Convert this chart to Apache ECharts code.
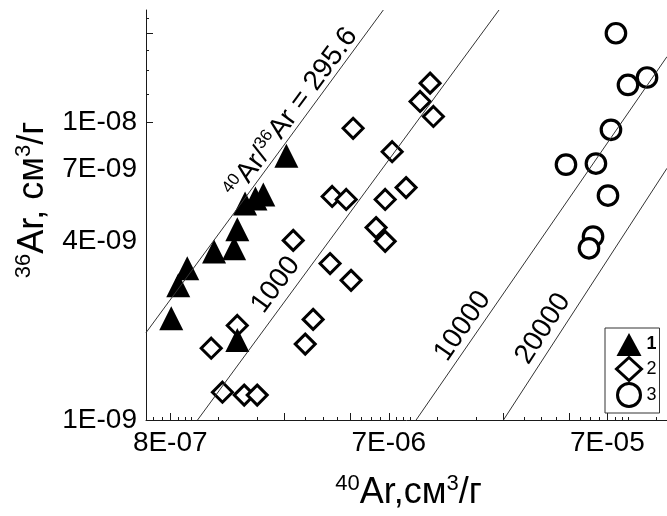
<!DOCTYPE html>
<html>
<head>
<meta charset="utf-8">
<script src="https://cdn.jsdelivr.net/npm/echarts@6/dist/echarts.min.js"></script>
<style>
  html, body { margin: 0; padding: 0; background: #ffffff; }
  #chart { width: 667px; height: 516px; }
</style>
</head>
<body>
<div id="chart"></div>
<script>
// 40Ar and 36Ar contents (cm3/g) for three sample groups
const group1Ar40 = [7.58e-7, 8.16e-7, 8.97e-7, 1.19e-6, 1.47e-6, 1.52e-6, 1.65e-6, 1.84e-6, 2.0e-6, 2.55e-6, 1.52e-6];
const group1Ar36 = [2.20e-9, 2.84e-9, 3.24e-9, 3.69e-9, 3.78e-9, 4.38e-9, 5.35e-9, 5.56e-9, 5.74e-9, 7.75e-9, 1.86e-9];

const group2Ar40 = [1.159e-5, 1.043e-5, 1.2e-5, 5.15e-6, 7.77e-6, 4.13e-6, 4.79e-6, 7.22e-6, 9.0e-6, 6.56e-6, 7.22e-6,
                    2.74e-6, 4.04e-6, 5.04e-6, 3.38e-6, 3.11e-6, 1.52e-6, 1.155e-6, 1.30e-6, 1.635e-6, 1.875e-6];
const group2Ar36 = [1.359e-8, 1.179e-8, 1.05e-8, 9.58e-9, 7.99e-9, 5.65e-9, 5.52e-9, 5.52e-9, 6.05e-9, 4.44e-9, 3.99e-9,
                    4.02e-9, 3.36e-9, 2.95e-9, 2.18e-9, 1.80e-9, 2.08e-9, 1.744e-9, 1.24e-9, 1.213e-9, 1.213e-9];

const group3Ar40 = [8.21e-5, 9.32e-5, 1.139e-4, 7.79e-5, 4.85e-5, 6.65e-5, 7.55e-5, 6.45e-5, 6.18e-5];
const group3Ar36 = [2.0e-8, 1.34e-8, 1.42e-8, 9.47e-9, 7.23e-9, 7.29e-9, 5.69e-9, 4.14e-9, 3.78e-9];

// Reference lines of constant 40Ar/36Ar: end points [40Ar, 36Ar]
const isoRatios = [295.6, 1000, 10000, 20000];
const isoFrom = [[5.81e-7, 1.966e-9], [1e-6, 1e-9], [1e-5, 1e-9], [2.51e-5, 1e-9]];
const isoTo   = [[7.08e-6, 2.395e-8], [2.395e-5, 2.395e-8], [1.406e-4, 1.669e-8], [1.406e-4, 7.03e-9]];

// Axis ranges and labelled ticks
const xMin = 5.81e-7, xMax = 1.406e-4;
const yMin = 1e-9, yMax = 2.395e-8;
const xTickValues = [7.5e-7, 7.5e-6, 7.5e-5];
const xTickLabels = ['8E-07', '7E-06', '7E-05'];
const yTickValues = [1e-9, 4e-9, 7e-9, 1e-8];
const yTickLabels = ['1E-09', '4E-09', '7E-09', '1E-08'];

// tick marks: x every 0.625·10^k, y every 0.25·10^k
function ticks(step, nFrom, nTo, majorEvery, lo, hi) {
  const major = [], minor = [];
  for (let k = -8; k <= -3; k++) {
    for (let n = nFrom; n <= nTo; n++) {
      const v = n * step * Math.pow(10, k);
      if (v < lo * 0.999 || v > hi * 1.001) continue;
      (n % majorEvery === 0 ? major : minor).push(v);
    }
  }
  return { major, minor };
}
const xTicks = ticks(0.625, 2, 15, 4, xMin, xMax);
const yTicks = ticks(0.25, 4, 39, 4, yMin, yMax);

const FONT = "'Liberation Sans', Arial, Helvetica, sans-serif";
const AXIS_COLOR = '#1a1a1a';
const INK = '#000000';

function pick(values, labels) {
  return function (v) {
    let best = 0, bd = Infinity;
    values.forEach((t, i) => {
      const d = Math.abs(Math.log10(v) - Math.log10(t));
      if (d < bd) { bd = d; best = i; }
    });
    return labels[best];
  };
}

function zip(a, b) { return a.map((v, i) => [v, b[i]]); }

const chart = echarts.init(document.getElementById('chart'), null, { renderer: 'canvas' });

const supRich = {
  sup: { fontFamily: FONT, fontSize: 22, color: INK, verticalAlign: 'top', lineHeight: 40 },
  m: { fontFamily: FONT, fontSize: 36, color: INK, lineHeight: 40 }
};

function baseAxis(min, max, extra) {
  return Object.assign({
    type: 'log', logBase: 10, min: min, max: max,
    splitLine: { show: false }, minorTick: { show: false }, minorSplitLine: { show: false }
  }, extra);
}

const lineSeries = isoRatios.map((r, i) => ({
  type: 'line',
  name: 'iso' + r,
  data: [isoFrom[i], isoTo[i]],
  symbol: 'none',
  silent: true,
  clip: true,
  z: 6,
  lineStyle: { color: '#333333', width: 1 },
  emphasis: { disabled: true }
}));

const option = {
  animation: false,
  backgroundColor: '#ffffff',
  grid: { left: 146, right: 0, top: 10, bottom: 95 },
  xAxis: [
    baseAxis(xMin, xMax, {
      position: 'bottom',
      axisLine: { show: true, lineStyle: { color: AXIS_COLOR, width: 1 } },
      axisTick: { show: true, inside: true, length: 7, customValues: xTicks.major, lineStyle: { color: AXIS_COLOR } },
      axisLabel: { show: true, customValues: xTickValues, formatter: pick(xTickValues, xTickLabels),
                   fontFamily: FONT, fontSize: 28, color: INK, margin: 9 },
      name: '{sup|40}{m|Ar,см}{sup|3}{m|/г}',
      nameLocation: 'middle', nameGap: 53,
      nameTextStyle: { fontFamily: FONT, fontSize: 36, color: INK, rich: supRich, padding: [0, 0, 0, 4] }
    }),
    baseAxis(xMin, xMax, {
      position: 'bottom',
      axisLine: { show: false },
      axisTick: { show: true, inside: true, length: 3, customValues: xTicks.minor, lineStyle: { color: AXIS_COLOR } },
      axisLabel: { show: false }
    })
  ],
  yAxis: [
    baseAxis(yMin, yMax, {
      position: 'left',
      axisLine: { show: true, lineStyle: { color: AXIS_COLOR, width: 1 } },
      axisTick: { show: true, inside: true, length: 7, customValues: yTicks.major, lineStyle: { color: AXIS_COLOR } },
      axisLabel: { show: true, customValues: yTickValues, formatter: pick(yTickValues, yTickLabels),
                   fontFamily: FONT, fontSize: 28, color: INK, margin: 9 },
      name: '{sup|36}{m|Ar, см}{sup|3}{m|/г}',
      nameLocation: 'middle', nameGap: 90,
      nameTextStyle: { fontFamily: FONT, fontSize: 36, color: INK, rich: supRich, padding: [0, 0, 0, 30] }
    }),
    baseAxis(yMin, yMax, {
      position: 'left',
      axisLine: { show: false },
      axisTick: { show: true, inside: true, length: 3, customValues: yTicks.minor, lineStyle: { color: AXIS_COLOR } },
      axisLabel: { show: false }
    })
  ],
  legend: {
    data: ['1', '2', '3'],
    orient: 'vertical',
    left: 605, top: 328,
    itemWidth: 25, itemHeight: 23, itemGap: 0,
    padding: [5, 3, 5, 10],
    borderColor: '#333333', borderWidth: 1,
    itemStyle: { borderWidth: 3 },
    selectedMode: false,
    formatter: function (name) { return name === '1' ? '{b|1}' : name; },
    textStyle: { fontFamily: FONT, fontSize: 18, color: INK,
                 rich: { b: { fontFamily: FONT, fontSize: 18, fontWeight: 'bold', color: INK } } }
  },
  series: [
    {
      type: 'scatter', name: '2', z: 3,
      data: zip(group2Ar40, group2Ar36),
      symbol: 'diamond', symbolSize: 20,
      itemStyle: { color: '#ffffff', borderColor: INK, borderWidth: 3, opacity: 1 },
      emphasis: { disabled: true }
    },
    {
      type: 'scatter', name: '3', z: 3,
      data: zip(group3Ar40, group3Ar36),
      symbol: 'circle', symbolSize: 19.5,
      itemStyle: { color: '#ffffff', borderColor: INK, borderWidth: 3.2, opacity: 1 },
      emphasis: { disabled: true }
    },
    {
      type: 'scatter', name: '1', z: 4,
      data: zip(group1Ar40, group1Ar36),
      symbol: 'triangle', symbolSize: 24,
      itemStyle: { color: INK, opacity: 1 },
      emphasis: { disabled: true }
    }
  ].concat(lineSeries)
};

chart.setOption(option);

// Ratio labels written along each reference line
const labelAlong = [0.657, 0.305, 0.235, 0.327];
const labelOffset = [13, 17, 15, 16.5];
const labelText = [
  '{s|40}Ar/{s|36}Ar = 295.6',
  '1000', '10000', '20000'
];

function placeIsoLabels() {
  const elements = isoRatios.map((r, i) => {
    const p0 = chart.convertToPixel({ gridIndex: 0 }, isoFrom[i]);
    const p1 = chart.convertToPixel({ gridIndex: 0 }, isoTo[i]);
    const dx = p1[0] - p0[0], dy = p1[1] - p0[1];
    const len = Math.hypot(dx, dy);
    const ux = dx / len, uy = dy / len;
    const t = labelAlong[i], off = labelOffset[i];
    return {
      type: 'text',
      x: p0[0] + dx * t + uy * off,
      y: p0[1] + dy * t - ux * off,
      rotation: Math.atan2(-dy, dx),
      silent: true,
      z: 10,
      style: {
        text: labelText[i],
        fontFamily: FONT, fontSize: 28, fill: INK,
        align: 'center', verticalAlign: 'middle',
        rich: {
          s: { fontFamily: FONT, fontSize: 17, fill: INK, verticalAlign: 'top', lineHeight: 30 }
        }
      }
    };
  });
  chart.setOption({ graphic: elements });
}
placeIsoLabels();
</script>
</body>
</html>
